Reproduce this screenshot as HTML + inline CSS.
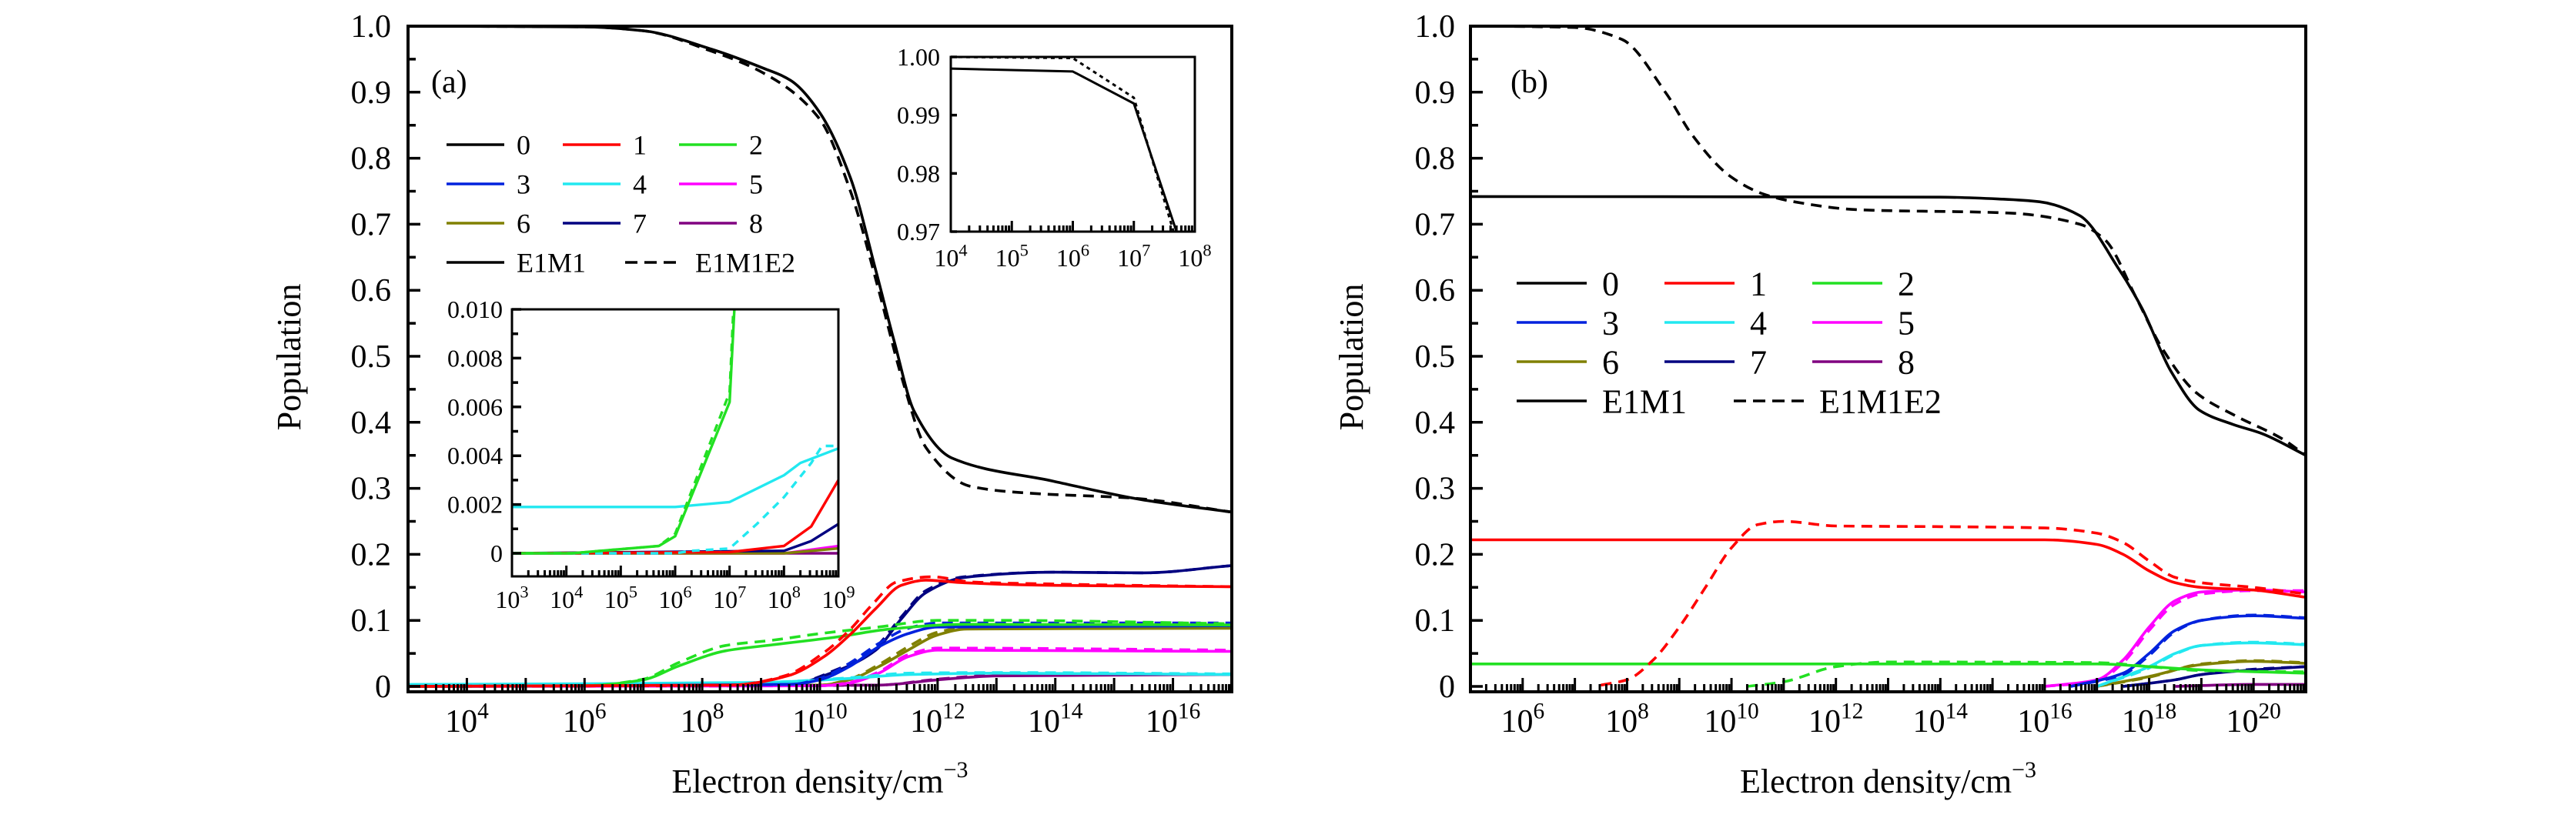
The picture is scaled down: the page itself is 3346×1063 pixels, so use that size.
<!DOCTYPE html>
<html><head><meta charset="utf-8">
<style>
html,body{margin:0;padding:0;background:#fff;}
svg{display:block;font-family:"Liberation Serif",serif;}
</style></head>
<body>
<svg id="chart" width="3346" height="1063" viewBox="0 0 3346 1063" xmlns="http://www.w3.org/2000/svg"></svg>
<script>
// ---------- DATA (log10 electron density, population) ----------
const colors = ["#000000","#ff0000","#22e022","#0022dd","#22e8f0","#ff00ff","#808000","#000080","#800080"];
const levelLabels = ["0","1","2","3","4","5","6","7","8"];

// Panel (a) main, solid (E1M1)
const aSolid0 = [[3,1.0],[6,0.999],[7,0.993],[8.16,0.965],[9.02,0.937],[9.5,0.918],[9.99,0.87],[10.52,0.77],[10.95,0.63],[11.27,0.52],[11.6,0.417],[12.24,0.346],[13.96,0.311],[15.46,0.283],[17,0.264]];
const aDash0  = [[3,1.0],[6,0.999],[7,0.993],[8.16,0.962],[9.02,0.93],[9.99,0.86],[10.52,0.75],[11,0.6],[11.4,0.465],[11.8,0.362],[12.56,0.303],[13.5,0.293],[15.35,0.285],[17,0.264]];
const aSolid1 = [[3,0],[8.5,0.002],[9.45,0.016],[10.1,0.047],[10.52,0.079],[10.95,0.118],[11.38,0.153],[11.8,0.161],[12.45,0.157],[14,0.153],[17,0.151]];
const aDash1  = [[3,0],[8.5,0.002],[9.4,0.016],[10.05,0.05],[10.5,0.085],[10.9,0.125],[11.3,0.158],[11.9,0.166],[12.6,0.158],[14,0.155],[17,0.151]];
const aSolid2 = [[3,0],[6,0.001],[7,0.01],[7.6,0.031],[8.4,0.054],[9.2,0.063],[10.3,0.075],[11.2,0.087],[12.45,0.094],[17,0.093]];
const aDash2  = [[3,0],[6,0.001],[7,0.011],[7.6,0.036],[8.4,0.062],[9.2,0.07],[10,0.08],[11,0.09],[12,0.1],[13,0.1],[17,0.095]];
const aSolid3 = [[3,0],[9.5,0.003],[10,0.01],[10.5,0.03],[11,0.06],[11.5,0.08],[12,0.09],[17,0.092]];
const aDash3  = [[3,0],[9.5,0.003],[10,0.012],[10.5,0.035],[11,0.065],[11.5,0.088],[12,0.096],[17,0.096]];
const aSolid4 = [[3,0.003],[9,0.006],[10.5,0.012],[11.5,0.018],[13,0.02],[17,0.018]];
const aDash4  = [[3,0.001],[9,0.006],[10.5,0.013],[11.5,0.02],[13,0.021],[17,0.019]];
const aSolid5 = [[3,0],[10,0.001],[10.5,0.005],[11,0.02],[11.5,0.045],[12,0.055],[17,0.053]];
const aDash5  = [[3,0],[10,0.001],[10.5,0.006],[11,0.022],[11.5,0.048],[12,0.058],[17,0.055]];
const aSolid6 = [[3,0],[10,0.002],[10.5,0.01],[11,0.03],[11.5,0.055],[12,0.078],[12.5,0.087],[17,0.088]];
const aDash6  = [[3,0],[10,0.002],[10.5,0.011],[11,0.033],[11.5,0.06],[12,0.082],[12.5,0.089],[17,0.089]];
const aSolid7 = [[3,0],[9.5,0.004],[10.3,0.024],[10.95,0.055],[11.38,0.102],[11.8,0.142],[12.45,0.165],[14,0.173],[15.5,0.172],[17,0.183]];
const aDash7  = [[3,0],[9.5,0.004],[10.3,0.026],[10.95,0.06],[11.38,0.105],[11.8,0.145],[12.45,0.166],[14,0.173],[15.5,0.172],[17,0.183]];
const aSolid8 = [[3,0],[11,0.002],[12,0.01],[13,0.016],[17,0.018]];
const aDash8  = [[3,0],[11,0.002],[12,0.011],[13,0.017],[17,0.018]];

// Panel (a) top-right inset (level 0)
const inTRSolid = [[4,0.998],[6,0.9975],[7,0.992],[7.7,0.97]];
const inTRDash  = [[4,1.0],[6,0.9998],[7,0.993],[7.65,0.97]];

// Panel (a) lower-left inset
const inLLSolid2 = [[3,0],[4.1,0],[5.7,0.0003],[6,0.0007],[7,0.0062],[7.1,0.0105]];
const inLLDash2  = [[3,0],[4.1,0],[5.7,0.0003],[6,0.0008],[7,0.0066],[7.08,0.0105]];
const inLLSolid4 = [[3,0.0019],[6,0.0019],[7,0.0021],[8,0.0032],[8.3,0.0037],[9,0.0043]];
const inLLDash4  = [[3,0],[6,0],[6.3,0.0001],[7,0.0002],[7.5,0.0012],[8,0.0023],[8.5,0.0037],[8.7,0.0044],[9,0.0044]];
const inLLSolid1 = [[3,0],[7,0.00005],[8,0.0003],[8.5,0.0011],[9,0.003]];
const inLLSolid7 = [[3,0],[8,0.0001],[8.5,0.0005],[9,0.0012]];
const inLLSolid6 = [[3,0],[8,0],[9,0.0002]];
const inLLSolid5 = [[3,0],[8,0],[9,0.0003]];
const inLLSolid8 = [[3,0],[9,0]];

// Panel (b)
const bSolid0 = [[5,0.742],[14,0.741],[15.2,0.738],[15.9,0.734],[16.67,0.713],[17.42,0.632],[17.86,0.573],[18.42,0.477],[18.97,0.418],[19.6,0.397],[20.16,0.383],[21,0.35]];
const bDash0  = [[5.5,1.0],[7,0.998],[7.9,0.98],[8.75,0.898],[9.24,0.836],[9.97,0.773],[10.6,0.746],[11.2,0.734],[12.42,0.722],[15.3,0.717],[16.67,0.7],[17.16,0.676],[17.75,0.589],[18.25,0.512],[18.9,0.445],[19.65,0.41],[20.55,0.375],[21,0.35]];
const bSolid1 = [[5,0.222],[16,0.222],[17,0.215],[17.5,0.2],[18,0.175],[18.5,0.157],[19,0.15],[20,0.146],[21,0.135]];
const bDash1  = [[7.5,0.002],[8,0.01],[8.5,0.04],[9,0.09],[9.5,0.15],[10,0.21],[10.5,0.245],[11,0.25],[12,0.243],[14,0.242],[16,0.24],[17,0.232],[17.5,0.218],[18,0.19],[18.5,0.165],[19,0.157],[20,0.15],[21,0.14]];
const bSolid2 = [[5,0.034],[17,0.034],[18,0.03],[19,0.025],[21,0.02]];
const bDash2  = [[10.3,0],[11,0.007],[12,0.03],[13,0.037],[17,0.036],[18,0.03],[19,0.024],[21,0.022]];
const bSolid3 = [[16.5,0],[17.5,0.02],[18,0.05],[18.5,0.085],[19,0.1],[20,0.107],[21,0.103]];
const bDash3  = [[16.5,0],[17.5,0.018],[18,0.047],[18.5,0.083],[19,0.1],[20,0.108],[21,0.104]];
const bSolid4 = [[17,0],[18,0.03],[18.5,0.05],[19,0.062],[20,0.066],[21,0.063]];
const bDash4  = [[17,0],[18,0.028],[18.5,0.049],[19,0.062],[20,0.067],[21,0.064]];
const bSolid5 = [[16,0],[17,0.01],[17.5,0.04],[18,0.09],[18.5,0.13],[19,0.143],[20,0.146],[21,0.143]];
const bDash5  = [[16,0],[17,0.008],[17.5,0.036],[18,0.085],[18.5,0.125],[19,0.14],[20,0.145],[21,0.145]];
const bSolid6 = [[17,0],[18,0.015],[19,0.033],[20,0.038],[21,0.035]];
const bDash6  = [[17,0],[18,0.014],[19,0.034],[20,0.039],[21,0.036]];
const bSolid7 = [[17.5,0],[18.5,0.01],[19,0.018],[20,0.025],[21,0.03]];
const bDash7  = [[17.5,0],[18.5,0.01],[19,0.018],[20,0.026],[21,0.03]];
const bSolid8 = [[18.5,0],[20,0.003],[21,0.003]];

// Tick labels
const aYTicks = ["0","0.1","0.2","0.3","0.4","0.5","0.6","0.7","0.8","0.9","1.0"];
const aXLabelExps = [4,6,8,10,12,14,16];
const bXLabelExps = [6,8,10,12,14,16,18,20];
const inTRYTicks = ["0.97","0.98","0.99","1.00"];
const inTRXExps = [4,5,6,7,8];
const inLLYTicks = ["0","0.002","0.004","0.006","0.008","0.010"];
const inLLXExps = [3,4,5,6,7,8,9];

// ---------- DRAWING ----------
const NS = "http://www.w3.org/2000/svg";
const svg = document.getElementById("chart");
function mk(tag, attrs, parent){
  const e = document.createElementNS(NS, tag);
  for (const k in attrs) e.setAttribute(k, attrs[k]);
  (parent||svg).appendChild(e);
  return e;
}
function axes(x0,x1,y0,y1,xmin,xmax,ymin,ymax){
  return {x:v=>x0+(v-xmin)/(xmax-xmin)*(x1-x0), y:v=>y1-(v-ymin)/(ymax-ymin)*(y1-y0)};
}
// monotone cubic (Fritsch–Carlson) in data space
function pathD(pts, ax, smooth){
  const n = pts.length;
  const P = pts.map(p=>[ax.x(p[0]), ax.y(p[1])]);
  let d = "M"+P[0][0].toFixed(1)+","+P[0][1].toFixed(1);
  if(!smooth || n<3){
    for(let i=1;i<n;i++) d+=" L"+P[i][0].toFixed(1)+","+P[i][1].toFixed(1);
    return d;
  }
  const dx=[],s=[];
  for(let i=0;i<n-1;i++){ dx.push(P[i+1][0]-P[i][0]); s.push((P[i+1][1]-P[i][1])/dx[i]); }
  const m=new Array(n);
  m[0]=s[0]; m[n-1]=s[n-2];
  for(let i=1;i<n-1;i++){
    if(s[i-1]*s[i]<=0) m[i]=0;
    else { const w1=2*dx[i]+dx[i-1], w2=dx[i]+2*dx[i-1]; m[i]=(w1+w2)/(w1/s[i-1]+w2/s[i]); }
  }
  for(let i=0;i<n-1;i++){
    const h=dx[i]/3;
    d+=" C"+(P[i][0]+h).toFixed(1)+","+(P[i][1]+m[i]*h).toFixed(1)+" "+(P[i+1][0]-h).toFixed(1)+","+(P[i+1][1]-m[i+1]*h).toFixed(1)+" "+P[i+1][0].toFixed(1)+","+P[i+1][1].toFixed(1);
  }
  return d;
}
function curve(pts, ax, color, dashed, name, clip, smooth, w){
  const p = mk("path",{d:pathD(pts,ax,smooth!==false),fill:"none",stroke:color,"stroke-width":w||3.6,"stroke-linejoin":"round"});
  if(dashed) p.setAttribute("stroke-dasharray", dashed===true?"14,9":dashed);
  if(clip) p.setAttribute("clip-path","url(#"+clip+")");
  
  
}
function text(x,y,str,size,anchor,name){
  const t = mk("text",{x:x,y:y,"font-size":size,"text-anchor":anchor||"middle",fill:"#000"});
  t.textContent = str;
  
  
  return t;
}
function powLabel(x,y,exp,size,name){
  const t = mk("text",{x:x,y:y,"font-size":size,"text-anchor":"middle",fill:"#000"});
  const a = mk("tspan",{},t); a.textContent="10";
  const b = mk("tspan",{"font-size":size*0.7,dy:-size*0.42},t); b.textContent=String(exp);
  
  
}
function clipRect(id,x0,y0,x1,y1){
  const defs = mk("defs",{});
  const c = mk("clipPath",{id:id},defs);
  mk("rect",{x:x0,y:y0,width:x1-x0,height:y1-y0},c);
}
function frame(x0,y0,x1,y1,name,w){
  const r = mk("rect",{x:x0,y:y0,width:x1-x0,height:y1-y0,fill:"none",stroke:"#000","stroke-width":w||4});
  
  
}
function logTicks(ax,emin,emax,yb,major,minor,name){
  let d="";
  for(let e=emin;e<=emax;e++){
    const X=ax.x(e); d+="M"+X+","+yb+" v"+(-major);
    if(e<emax) for(let m=2;m<=9;m++){ const Xm=ax.x(e+Math.log10(m)); d+=" M"+Xm+","+yb+" v"+(-minor); }
  }
  const p=mk("path",{d:d,stroke:"#000","stroke-width":3,fill:"none"});
  
  
}
function yTicks(ax,xl,vals,major,minor,step,name){
  let d="";
  for(let i=0;i<vals.length;i++){
    const v=vals[i]; d+="M"+xl+","+ax.y(v)+" h"+major;
    if(i<vals.length-1){ d+=" M"+xl+","+ax.y(v+step/2)+" h"+minor; }
  }
  const p=mk("path",{d:d,stroke:"#000","stroke-width":3.5,fill:"none"});
  
  
}
function legend(x,rows,lineLen,textOff,colGap,size,rowH,y0,prefix,legendW){
  for(let i=0;i<9;i++){
    const r=Math.floor(i/3), c=i%3;
    const lx = x + c*colGap, ly = y0 + r*rowH;
    const l=mk("line",{x1:lx,y1:ly,x2:lx+lineLen,y2:ly,stroke:colors[i],"stroke-width":3.6});
    
    
    text(lx+lineLen+textOff, ly+size*0.35, levelLabels[i], size, "start", prefix+'legend-label-'+i);
  }
  const ly = y0 + 3*rowH;
  const l1=mk("line",{x1:x,y1:ly,x2:x+lineLen,y2:ly,stroke:"#000","stroke-width":3.6});
  
  
  text(x+lineLen+textOff, ly+size*0.35, "E1M1", size, "start", prefix+'legend-label-e1m1');
  const l2=mk("line",{x1:x+legendW,y1:ly,x2:x+legendW+lineLen,y2:ly,stroke:"#000","stroke-width":3.6,"stroke-dasharray":"16,9"});
  
  
  text(x+legendW+lineLen+textOff, ly+size*0.35, "E1M1E2", size, "start", prefix+'legend-label-e1m1e2');
}
function xTitle(cx,y,name){
  const t = mk("text",{x:cx,y:y,"font-size":44,"text-anchor":"middle",fill:"#000"});
  const a = mk("tspan",{},t); a.textContent="Electron density/cm";
  const b = mk("tspan",{"font-size":30,dy:-20},t); b.textContent="−3";
  
  
}
function yTitle(x,y,name){
  const t = mk("text",{x:x,y:y,"font-size":44,"text-anchor":"middle",fill:"#000",transform:"rotate(-90 "+x+" "+y+")"});
  t.textContent="Population";
  
  
}

// ===== Panel (a) =====
const A = {x0:530,x1:1600,y0:34,y1:892,bottom:899};
const ax = axes(A.x0,A.x1,A.y0,A.y1,3,17,0,1);
clipRect("clipA",A.x0,A.y0-4,A.x1,A.bottom);
const aSolid=[aSolid0,aSolid1,aSolid2,aSolid3,aSolid4,aSolid5,aSolid6,aSolid7,aSolid8];
const aDash=[aDash0,aDash1,aDash2,aDash3,aDash4,aDash5,aDash6,aDash7,aDash8];
for(let i=8;i>=0;i--){
  curve(aDash[i],ax,colors[i],true,"a-curve-e1m1e2-level-"+i,"clipA");
  curve(aSolid[i],ax,colors[i],false,"a-curve-e1m1-level-"+i,"clipA");
}
frame(A.x0,A.y0,A.x1,A.bottom,"a-plot-frame");
logTicks(ax,3,17,A.bottom,18,10,"a-x-ticks");
yTicks(ax,A.x0,[0,0.1,0.2,0.3,0.4,0.5,0.6,0.7,0.8,0.9,1.0],16,10,0.1,"a-y-ticks");
aYTicks.forEach((s,i)=>text(A.x0-22, ax.y(i*0.1)+14, s, 42, "end", "a-y-tick-label-"+s));
aXLabelExps.forEach(e=>powLabel(ax.x(e), 951, e, 42, "a-x-tick-label-1e"+e));
xTitle((A.x0+A.x1)/2, 1030, "a-x-axis-title");
yTitle(390, 464, "a-y-axis-title");
text(560, 120, "(a)", 42, "start", "a-panel-label");
legend(580,3,75,16,151,36,51,188,"a-",232);

// top-right inset
const T = {x0:1235,x1:1552,y0:74,y1:301};
const at = axes(T.x0,T.x1,T.y0,T.y1,4,8,0.97,1.0);
mk("rect",{x:T.x0,y:T.y0,width:T.x1-T.x0,height:T.y1-T.y0,fill:"#fff"});
clipRect("clipT",T.x0,T.y0,T.x1,T.y1);
curve(inTRDash,at,"#000","5,5","a-inset-top-e1m1e2-level-0","clipT",false,3);
curve(inTRSolid,at,"#000",false,"a-inset-top-e1m1-level-0","clipT",false,3);
frame(T.x0,T.y0,T.x1,T.y1,"a-inset-top-frame",3);
logTicks(at,4,8,T.y1,14,8,"a-inset-top-x-ticks");
yTicks(at,T.x0,[0.97,0.98,0.99,1.0],8,0,0.01,"a-inset-top-y-ticks");
inTRYTicks.forEach((s,i)=>text(T.x0-14, at.y(0.97+i*0.01)+11, s, 32, "end", "a-inset-top-y-label-"+s));
inTRXExps.forEach(e=>powLabel(at.x(e), 346, e, 32, "a-inset-top-x-label-1e"+e));

// lower-left inset
const L = {x0:665,x1:1089,y0:402,y1:719,bottom:749};
const al = axes(L.x0,L.x1,L.y0,L.y1,3,9,0,0.010);
mk("rect",{x:L.x0,y:L.y0,width:L.x1-L.x0,height:L.bottom-L.y0,fill:"#fff"});
clipRect("clipL",L.x0,L.y0,L.x1,L.bottom);
const llSeries=[[inLLSolid8,8,false],[inLLSolid5,5,false],[inLLSolid6,6,false],[inLLSolid7,7,false],[inLLSolid1,1,false],[inLLDash4,4,true],[inLLSolid4,4,false],[inLLDash2,2,true],[inLLSolid2,2,false]];
llSeries.forEach(s=>curve(s[0],al,colors[s[1]],s[2]?"10,8":false,"a-inset-low-"+(s[2]?"e1m1e2":"e1m1")+"-level-"+s[1],"clipL",false,3.4));
frame(L.x0,L.y0,L.x1,L.bottom,"a-inset-low-frame",3);
logTicks(al,3,9,L.bottom,14,8,"a-inset-low-x-ticks");
yTicks(al,L.x0,[0,0.002,0.004,0.006,0.008,0.010],12,8,0.002,"a-inset-low-y-ticks");
inLLYTicks.forEach((s,i)=>text(L.x0-12, al.y(i*0.002)+11, s, 32, "end", "a-inset-low-y-label-"+s));
inLLXExps.forEach(e=>powLabel(al.x(e), 790, e, 32, "a-inset-low-x-label-1e"+e));

// ===== Panel (b) =====
const B = {x0:1910,x1:2995,y0:34,y1:892,bottom:899};
const bx = axes(B.x0,B.x1,B.y0,B.y1,5,21,0,1);
clipRect("clipB",B.x0,B.y0-4,B.x1,B.bottom);
const bSolid=[bSolid0,bSolid1,bSolid2,bSolid3,bSolid4,bSolid5,bSolid6,bSolid7,bSolid8];
const bDash=[bDash0,bDash1,bDash2,bDash3,bDash4,bDash5,bDash6,bDash7,null];
for(let i=8;i>=0;i--){
  if(bDash[i]) curve(bDash[i],bx,colors[i],true,"b-curve-e1m1e2-level-"+i,"clipB");
  curve(bSolid[i],bx,colors[i],false,"b-curve-e1m1-level-"+i,"clipB");
}
frame(B.x0,B.y0,B.x1,B.bottom,"b-plot-frame");
logTicks(bx,5,21,B.bottom,18,10,"b-x-ticks");
yTicks(bx,B.x0,[0,0.1,0.2,0.3,0.4,0.5,0.6,0.7,0.8,0.9,1.0],16,10,0.1,"b-y-ticks");
aYTicks.forEach((s,i)=>text(B.x0-20, bx.y(i*0.1)+14, s, 42, "end", "b-y-tick-label-"+s));
bXLabelExps.forEach(e=>powLabel(bx.x(e), 951, e, 42, "b-x-tick-label-1e"+e));
xTitle((B.x0+B.x1)/2, 1030, "b-x-axis-title");
yTitle(1770, 464, "b-y-axis-title");
text(1962, 120, "(b)", 42, "start", "b-panel-label");
legend(1970,3,91,20,192,44,51,368,"b-",282);
</script>
</body></html>
